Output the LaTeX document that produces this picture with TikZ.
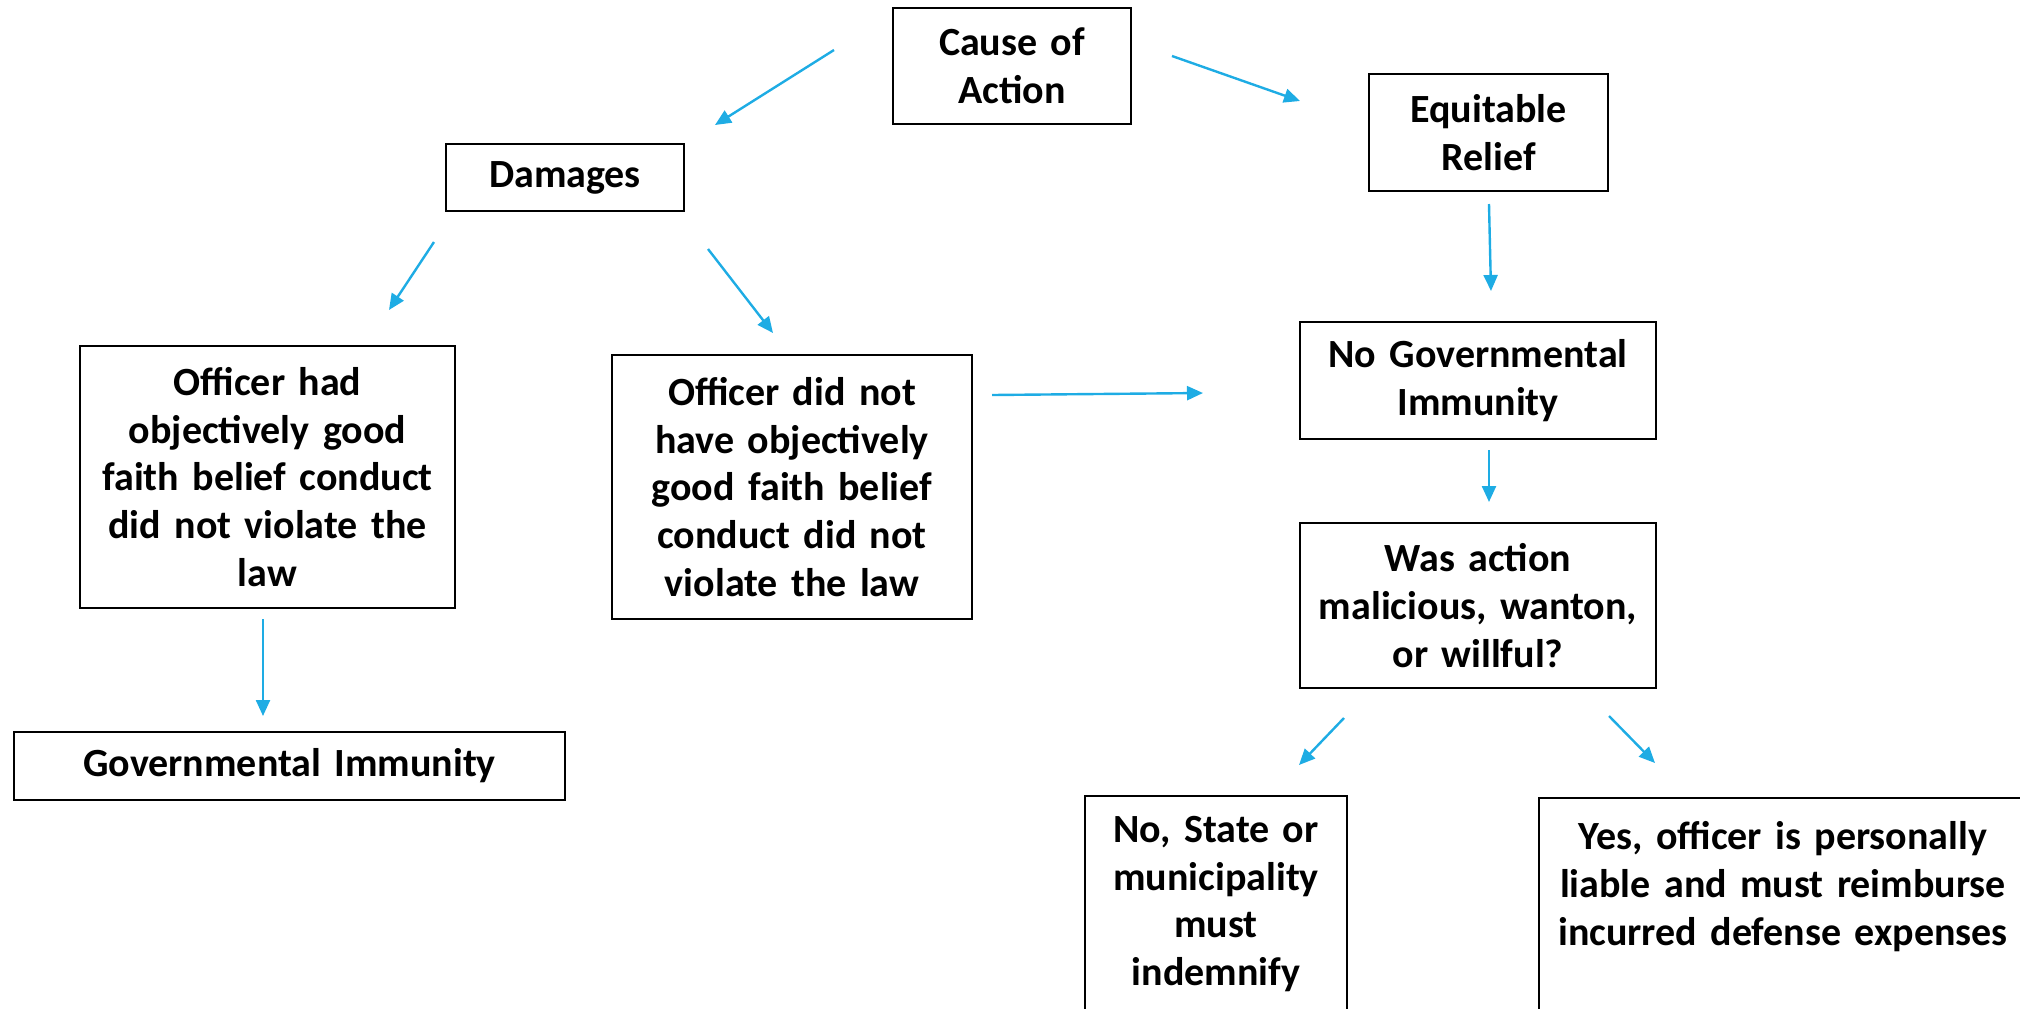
\documentclass[tikz,border=0pt]{standalone}
\usepackage{fontspec}
\setmainfont{Carlito}
\usetikzlibrary{arrows.meta}
\definecolor{arrowblue}{RGB}{30,172,228}

\begin{document}
\begin{tikzpicture}[x=0.5pt,y=-0.5pt,
  box/.style={draw=black,line width=1.2pt,inner sep=0pt,align=center,
    font=\fontsize{20}{23.9}\selectfont\bfseries},
  arr/.style={arrowblue,line width=1.2pt,-{Triangle[length=8pt,width=7pt]}}]
\useasboundingbox (0,0) rectangle (2020,1008);
\clip (0,0) rectangle (2020,1008);
% boxes
\node[box,minimum width=119pt,minimum height=58pt,text width=110pt] (cause) at (1012,66) {Cause of\\Action};
\node[box,minimum width=119pt,minimum height=33.5pt,text width=110pt] (damages) at (565,177.5) {Damages};
\node[box,minimum width=119.5pt,minimum height=58.5pt,text width=110pt] (relief) at (1488.5,132.5) {Equitable\\Relief};
\node[box,minimum width=187.5pt,minimum height=131pt,text width=180pt] (goodfaith) at (267.5,477) {Officer had\\objectively good\\faith belief conduct\\did not violate the\\law};
\node[box,minimum width=180pt,minimum height=132pt,text width=172pt] (nogoodfaith) at (792,487) {Officer did not\\have objectively\\good faith belief\\conduct did not\\violate the law};
\node[box,minimum width=275.5pt,minimum height=34pt,text width=260pt] (immunity) at (289.5,766) {Governmental Immunity};
\node[box,minimum width=178pt,minimum height=58.5pt,text width=170pt] (noimmunity) at (1478,380.5) {No Governmental\\Immunity};
\node[box,minimum width=178pt,minimum height=82.5pt,text width=170pt] (malice) at (1478,605.5) {Was action\\malicious, wanton,\\or willful?};
\node[box,minimum width=131pt,minimum height=108pt,text width=124pt] (indemnify) at (1216,904) {No, State or\\municipality\\must\\indemnify};
\node[box,minimum width=244pt,minimum height=133pt,text width=236pt] (liable) at (1783,931) {Yes, officer is personally\\liable and must reimburse\\incurred defense expenses\\\mbox{}\\\mbox{}};
% arrow ends
\coordinate (c1a) at (834,50);  \coordinate (c1b) at (715,125);
\coordinate (c2a) at (1172,56); \coordinate (c2b) at (1300,101);
\coordinate (c3a) at (434,242); \coordinate (c3b) at (389,310);
\coordinate (c4a) at (708,249); \coordinate (c4b) at (773,333);
\coordinate (c5a) at (992,395); \coordinate (c5b) at (1203,393);
\coordinate (c6a) at (1489,204); \coordinate (c6b) at (1491,291);
\coordinate (c7a) at (1489,450); \coordinate (c7b) at (1489,502);
\coordinate (c8a) at (263,619); \coordinate (c8b) at (263,716);
\coordinate (c9a) at (1344,718); \coordinate (c9b) at (1299,765);
\coordinate (c10a) at (1609,716); \coordinate (c10b) at (1655,763);
% arrows
\foreach \i in {1,...,10}
  \draw[arr] (c\i a) -- (c\i b);
\end{tikzpicture}
\end{document}
